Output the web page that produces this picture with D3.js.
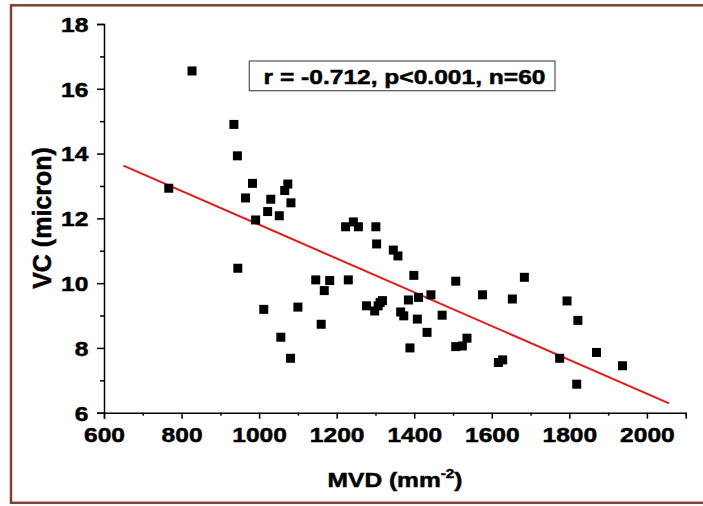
<!DOCTYPE html>
<html>
<head>
<meta charset="utf-8">
<script src="https://cdnjs.cloudflare.com/ajax/libs/d3/7.8.5/d3.min.js"></script>
<style>
  html, body { margin: 0; padding: 0; background: #fff; }
  text { font-family: "Liberation Sans", Arial, sans-serif; font-weight: bold; fill: #000; stroke: #000; stroke-width: 0.5px; }
</style>
</head>
<body>
<div class="main"></div>
<script>
//Data
const mvd = [827, 935, 944, 767, 983, 1074, 1066, 965, 1030, 1082,
             1022, 1052, 991, 1223, 1243, 1256, 1301, 1303, 945, 1146,
             1182, 1230, 1168, 1012, 1100, 1160, 1056, 1081, 1346, 1358,
             1399, 1507, 1684, 1576, 1653, 1443, 1411, 1385, 1318, 1277,
             1307, 1298, 1365, 1373, 1472, 1408, 1433, 1389, 1507, 1524,
             1536, 1617, 1628, 1794, 1822, 1870, 1775, 1937, 1819, 1312];
const vc  = [16.55, 14.90, 13.93, 12.93, 13.08, 13.06, 12.86, 12.63, 12.59, 12.48,
             12.21, 12.08, 11.95, 11.74, 11.89, 11.74, 11.74, 11.21, 10.46, 10.10,
             10.08, 10.10, 9.77, 9.19, 9.26, 8.73, 8.33, 7.68, 11.02, 10.84,
             10.24, 10.06, 10.18, 9.64, 9.51, 9.64, 9.56, 9.48, 9.46, 9.30,
             9.30, 9.14, 9.11, 8.99, 9.01, 8.89, 8.48, 8.00, 8.04, 8.06,
             8.30, 7.55, 7.63, 9.45, 8.85, 7.86, 7.68, 7.45, 6.88, 9.40];
const fitX = [650, 2057];
const fitY = [13.63, 6.29];
const xMajor = [600, 800, 1000, 1200, 1400, 1600, 1800, 2000];
const xMinor = [700, 900, 1100, 1300, 1500, 1700, 1900, 2100];
const yMajor = [6, 8, 10, 12, 14, 16, 18];
const yMinor = [7, 9, 11, 13, 15, 17];
const statText = 'r = -0.712, p<0.001, n=60';

//Variables
const width = 703,
      height = 506,
      margin = {top: 24, left: 104, bottom: 93.3, right: 17.3},
      stretch = 1.17;

const points = mvd.map((d, i) => ({x: d, y: vc[i]}));

//Create Canvas
const svg = d3.select('.main')
              .append('svg')
              .attr('width', width)
              .attr('height', height)
              .style('display', 'block');

//Frame
svg.append('rect')
   .attr('x', 11)
   .attr('y', 5.3)
   .attr('width', 720)
   .attr('height', 497.5)
   .attr('fill', 'none')
   .attr('stroke', '#85402e')
   .attr('stroke-width', 2.5);

//Create Scales
const xScale = d3.scaleLinear()
                 .domain([600, 2100])
                 .range([margin.left, width - margin.right]);
const yScale = d3.scaleLinear()
                 .domain([6, 18])
                 .range([height - margin.bottom, margin.top]);

const y0 = height - margin.bottom;

//Create Axes
const xAxis = svg.append('g')
   .attr('transform', `translate(0, ${y0})`)
   .call(d3.axisBottom(xScale).tickValues(xMajor).tickSize(6).tickFormat(d3.format('d')));
svg.append('g')
   .attr('transform', `translate(0, ${y0})`)
   .call(d3.axisBottom(xScale).tickValues(xMinor).tickSize(3).tickFormat(''))
   .select('.domain').remove();

const yAxis = svg.append('g')
   .attr('transform', `translate(${margin.left}, 0)`)
   .call(d3.axisLeft(yScale).tickValues(yMajor).tickSize(7).tickFormat(d3.format('d')));
svg.append('g')
   .attr('transform', `translate(${margin.left}, 0)`)
   .call(d3.axisLeft(yScale).tickValues(yMinor).tickSize(4).tickFormat(''))
   .select('.domain').remove();

svg.selectAll('.domain, .tick line')
   .attr('stroke', '#000')
   .attr('stroke-width', 1.5);

xAxis.selectAll('text')
     .attr('y', 14)
     .attr('dy', '0.71em')
     .attr('transform', `scale(${stretch},1)`)
     .style('font-size', '21px')
     .style('font-weight', 'bold');
yAxis.selectAll('text')
     .attr('x', -15.7 / stretch)
     .attr('dy', '0.35em')
     .attr('transform', `scale(${stretch},1)`)
     .style('font-size', '21px')
     .style('font-weight', 'bold');

//Axis Titles
const xTitle = svg.append('text')
   .attr('transform', `translate(395, 486.7) scale(${stretch},1)`)
   .attr('text-anchor', 'middle')
   .style('font-size', '21px');
xTitle.append('tspan').text('MVD (mm');
xTitle.append('tspan').text('-2').style('font-size', '13px').attr('dy', -9);
xTitle.append('tspan').text(')').attr('dy', 9);

svg.append('text')
   .attr('transform', `translate(51, 218) rotate(-90) scale(1,1.05)`)
   .attr('text-anchor', 'middle')
   .style('font-size', '25px')
   .text('VC (micron)');

//Regression Line
svg.append('line')
   .attr('x1', xScale(fitX[0]))
   .attr('y1', yScale(fitY[0]))
   .attr('x2', xScale(fitX[1]))
   .attr('y2', yScale(fitY[1]))
   .attr('stroke', '#e31a1c')
   .attr('stroke-width', 2);

//Points
const size = 9;
svg.selectAll('rect.pt')
   .data(points)
   .enter()
   .append('rect')
   .attr('class', 'pt')
   .attr('x', d => xScale(d.x) - size / 2)
   .attr('y', d => yScale(d.y) - size / 2)
   .attr('width', size)
   .attr('height', size)
   .attr('fill', '#000');

//Stats Box
svg.append('rect')
   .attr('x', 249.3)
   .attr('y', 61)
   .attr('width', 305.7)
   .attr('height', 29.7)
   .attr('fill', '#fff')
   .attr('stroke', '#555')
   .attr('stroke-width', 1.2);
svg.append('text')
   .attr('transform', `translate(404.5, 84.3) scale(${stretch},1)`)
   .attr('text-anchor', 'middle')
   .style('font-size', '21px')
   .text(statText);
</script>
</body>
</html>
